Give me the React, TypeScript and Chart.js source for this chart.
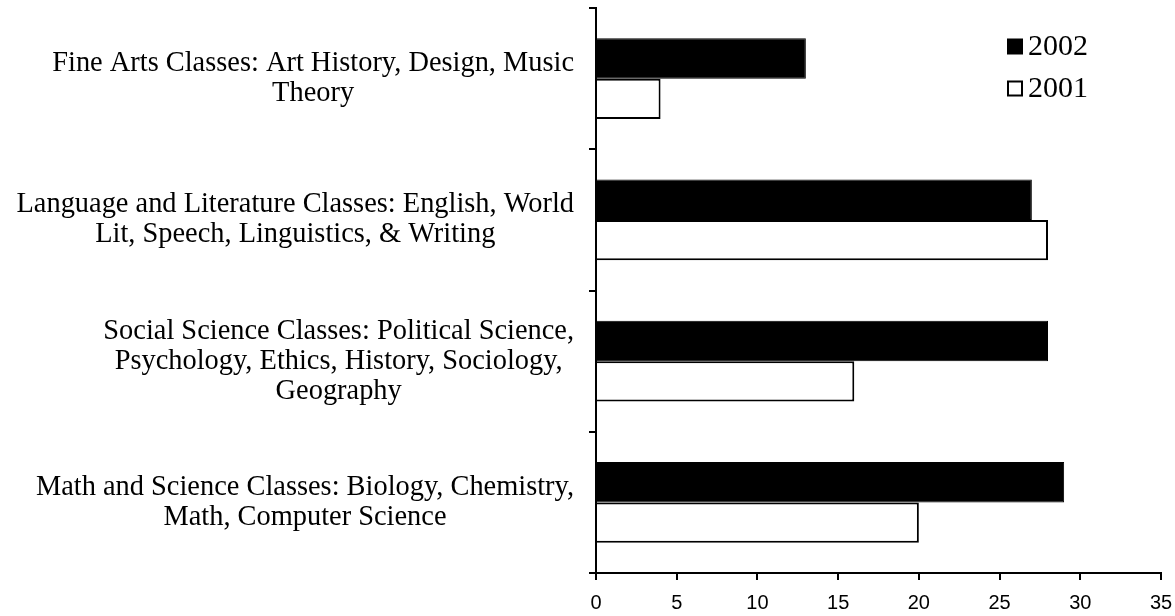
import React, { useEffect, useRef } from "react";
import { Chart, registerables } from "chart.js";

Chart.register(...registerables);

const categories: string[][] = [
  ["Fine Arts Classes: Art History, Design, Music", "Theory"],
  ["Language and Literature Classes: English, World", "Lit, Speech, Linguistics, & Writing"],
  ["Social Science Classes: Political Science,", "Psychology, Ethics, History, Sociology,", "Geography"],
  ["Math and Science Classes: Biology, Chemistry,", "Math, Computer Science"],
];
const values2002: number[] = [13, 27, 28, 29];
const values2001: number[] = [4, 28, 16, 20];
const seriesLabels: string[] = ["2002", "2001"];
const xTicks: number[] = [0, 5, 10, 15, 20, 25, 30, 35];

const SERIF = "'Liberation Serif', 'Times New Roman', serif";
const SANS = "'Liberation Sans', Arial, sans-serif";

const categoryLabelPlugin = {
  id: "categoryLabels",
  afterDraw(chart: any) {
    const ctx = chart.ctx;
    const yScale = chart.scales.y;
    const area = chart.chartArea;
    const rightEdge = area.left - 22;
    const lineH = 30;
    ctx.save();
    ctx.font = `28.4px ${SERIF}`;
    ctx.fillStyle = "#000";
    ctx.textAlign = "center";
    ctx.textBaseline = "middle";
    (chart.data.labels as string[][]).forEach((lines, i) => {
      const yc = yScale.getPixelForValue(i);
      const w = Math.max(...lines.map((l) => ctx.measureText(l).width));
      const xc = rightEdge - w / 2;
      const y0 = yc - ((lines.length - 1) * lineH) / 2;
      lines.forEach((l, j) => ctx.fillText(l, xc, y0 + j * lineH));
    });
    ctx.restore();
  },
};

const legendPlugin = {
  id: "insideLegend",
  afterDraw(chart: any) {
    const ctx = chart.ctx;
    const area = chart.chartArea;
    const x = area.right - 153;
    const y0 = area.top + 38.5;
    const gap = 42;
    ctx.save();
    ctx.font = `30px ${SERIF}`;
    ctx.textBaseline = "middle";
    ctx.textAlign = "left";
    chart.data.datasets.forEach((ds: any, i: number) => {
      const yc = y0 + i * gap;
      ctx.fillStyle = ds.backgroundColor;
      ctx.fillRect(x, yc - 7, 14, 14);
      ctx.strokeStyle = "#000";
      ctx.lineWidth = 2;
      ctx.strokeRect(x, yc - 7, 14, 14);
      ctx.fillStyle = "#000";
      ctx.fillText(ds.label, x + 20, yc + 1);
    });
    ctx.restore();
  },
};

export default function App() {
  const ref = useRef<HTMLCanvasElement | null>(null);
  useEffect(() => {
    document.body.style.margin = "0";
    const canvas = ref.current!;
    const chart = new Chart(canvas, {
      type: "bar",
      data: {
        labels: categories as any,
        datasets: [
          {
            label: seriesLabels[0],
            data: values2002,
            backgroundColor: "#000000",
            borderColor: "#000000",
            borderWidth: 1,
            categoryPercentage: 0.57,
            barPercentage: 1,
          },
          {
            label: seriesLabels[1],
            data: values2001,
            backgroundColor: "#ffffff",
            borderColor: "#000000",
            borderWidth: 2,
            categoryPercentage: 0.57,
            barPercentage: 1,
          },
        ],
      },
      options: {
        indexAxis: "y",
        responsive: false,
        animation: false,
        devicePixelRatio: 1,
        layout: { padding: { top: 8, right: 14, left: 0, bottom: 0 } },
        plugins: {
          legend: { display: false },
          tooltip: { enabled: false },
          title: { display: false },
        },
        scales: {
          x: {
            type: "linear",
            min: 0,
            max: 35,
            afterBuildTicks: (scale: any) => {
              scale.ticks = xTicks.map((v) => ({ value: v }));
            },
            afterFit: (scale: any) => {
              scale.height = 43;
              scale.paddingLeft = 0;
              scale.paddingRight = 0;
            },
            ticks: {
              color: "#000",
              font: { family: SANS, size: 20 },
              padding: 11,
              maxRotation: 0,
            },
            grid: {
              display: true,
              drawOnChartArea: false,
              drawTicks: true,
              tickLength: 7,
              color: "#000",
              lineWidth: 2,
            },
            border: { display: true, color: "#000", width: 2 },
          },
          y: {
            type: "category",
            offset: true,
            afterFit: (scale: any) => {
              scale.width = 596;
              scale.paddingTop = 0;
              scale.paddingBottom = 0;
            },
            ticks: { display: false },
            grid: {
              display: true,
              offset: true,
              drawOnChartArea: false,
              drawTicks: true,
              tickLength: 7,
              color: "#000",
              lineWidth: 2,
            },
            border: { display: true, color: "#000", width: 2 },
          },
        },
      },
      plugins: [categoryLabelPlugin, legendPlugin],
    } as any);
    return () => chart.destroy();
  }, []);
  return (
    <div style={{ width: 1175, height: 616, background: "#fff" }}>
      <canvas ref={ref} width={1175} height={616} style={{ display: "block" }} />
    </div>
  );
}
